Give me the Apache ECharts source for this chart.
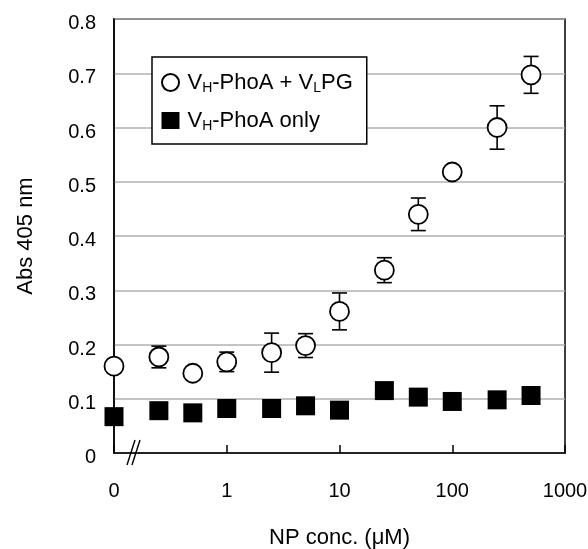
<!DOCTYPE html>
<html><head><meta charset="utf-8">
<script src="https://cdn.jsdelivr.net/npm/echarts@6/dist/echarts.min.js"></script>
<style>html,body{margin:0;padding:0;background:#fff}#c{width:588px;height:549px}</style>
</head><body><div id="c"></div>
<script>
// NP concentration (µM); 0 is drawn at the axis break (0.1 on the log scale)
const concentrations = [0, 0.25, 0.5, 1, 2.5, 5, 10, 25, 50, 100, 250, 500];
const withVLPG = [0.160, 0.177, 0.147, 0.168, 0.185, 0.198, 0.261, 0.337, 0.440, 0.518, 0.600, 0.697];
const withVLPGErr = [0, 0.020, 0, 0.018, 0.036, 0.022, 0.034, 0.023, 0.030, 0, 0.040, 0.034];
const phoAOnly = [0.067, 0.078, 0.074, 0.082, 0.082, 0.087, 0.079, 0.115, 0.103, 0.095, 0.098, 0.106];
const xTickValues = [0.1, 1, 10, 100, 1000];
const xTickLabels = ['0', '1', '10', '100', '1000'];
const seriesNames = ['VH-PhoA + VLPG', 'VH-PhoA only'];

const ZERO_POS = 0.1;
const FONT = '"Liberation Sans", Arial, Helvetica, sans-serif';
const xPos = c => (c === 0 ? ZERO_POS : c);

const chart = echarts.init(document.getElementById('c'), null, {renderer: 'canvas'});

const circleData = concentrations.map((c, i) => [xPos(c), withVLPG[i]]);
const squareData = concentrations.map((c, i) => [xPos(c), phoAOnly[i]]);
const errData = concentrations.map((c, i) => [xPos(c), withVLPG[i], withVLPGErr[i]]);

const GL = 114, GR = 23, GT = 19, GB = 96;

chart.setOption({
  backgroundColor: '#fff',
  animation: false,
  textStyle: {fontFamily: FONT},
  grid: {left: GL, right: GR, top: GT, bottom: GB, containLabel: false, outerBoundsMode: 'none',
         show: true, borderColor: '#000', borderWidth: 1.5, backgroundColor: 'transparent'},
  legend: {
    orient: 'vertical', left: 152, top: 57,
    data: seriesNames,
    backgroundColor: '#fff', borderColor: '#000', borderWidth: 1.5,
    padding: [14, 14, 11, 9], itemGap: 14, itemWidth: 18, itemHeight: 17,
    formatter: name => name === seriesNames[0]
      ? '{n|V}{s|H}{n|-PhoA + V}{s|L}{n|PG}'
      : '{n|V}{s|H}{n|-PhoA only}',
    textStyle: {
      fontFamily: FONT, color: '#000', padding: [0, 0, 0, 3],
      rich: {
        n: {fontSize: 22, fontFamily: FONT, color: '#000', lineHeight: 25},
        s: {fontSize: 14, fontFamily: FONT, color: '#000', lineHeight: 14, verticalAlign: 'bottom', padding: [10, 0, 0, 0]}
      }
    }
  },
  xAxis: {
    type: 'log', logBase: 10, min: 0.1, max: 1000,
    name: 'NP conc. (μM)', nameLocation: 'middle', nameGap: 74,
    nameTextStyle: {fontSize: 22, color: '#000', fontFamily: FONT},
    axisLine: {lineStyle: {color: '#000', width: 1.5}},
    axisTick: {show: true, inside: true, length: 8, lineStyle: {color: '#000', width: 1.5}},
    minorTick: {show: false},
    splitLine: {show: false},
    axisLabel: {
      fontSize: 20, color: '#000', margin: 28, fontFamily: FONT,
      formatter: v => {
        const idx = xTickValues.findIndex(t => Math.abs(Math.log10(t) - Math.log10(v)) < 1e-6);
        return idx >= 0 ? xTickLabels[idx] : '';
      }
    }
  },
  yAxis: {
    type: 'value', min: 0, max: 0.8, interval: 0.1,
    name: 'Abs 405 nm', nameLocation: 'middle', nameGap: 77,
    nameTextStyle: {fontSize: 22, color: '#000', fontFamily: FONT},
    axisLine: {show: true, lineStyle: {color: '#000', width: 1.5}},
    axisTick: {show: false},
    splitLine: {show: true, lineStyle: {color: '#b0b0b0', width: 1.5}},
    axisLabel: {
      fontSize: 20, color: '#000', margin: 18, fontFamily: FONT,
      verticalAlign: 'top', lineHeight: 9,
      formatter: v => (v === 0 ? '0' : v.toFixed(1))
    }
  },
  series: [
    {
      type: 'custom', name: 'err', z: 2, silent: true, clip: false,
      data: errData, encode: {x: 0, y: 1},
      renderItem: (params, api) => {
        const x = api.value(0), y = api.value(1), e = api.value(2);
        if (!e) return null;
        const top = api.coord([x, y + e]);
        const bot = api.coord([x, y - e]);
        const w = 7.5;
        const st = {stroke: '#000', lineWidth: 1.6};
        return {type: 'group', children: [
          {type: 'line', shape: {x1: top[0], y1: top[1], x2: bot[0], y2: bot[1]}, style: st},
          {type: 'line', shape: {x1: top[0] - w, y1: top[1], x2: top[0] + w, y2: top[1]}, style: st},
          {type: 'line', shape: {x1: bot[0] - w, y1: bot[1], x2: bot[0] + w, y2: bot[1]}, style: st}
        ]};
      }
    },
    {
      type: 'scatter', name: seriesNames[0], z: 4, clip: false,
      symbol: 'circle', symbolSize: 19,
      itemStyle: {color: '#fff', borderColor: '#000', borderWidth: 1.8, opacity: 1},
      data: circleData
    },
    {
      type: 'scatter', name: seriesNames[1], z: 4, clip: false,
      symbol: 'rect', symbolSize: 19,
      itemStyle: {color: '#000', opacity: 1},
      data: squareData
    }
  ],
  graphic: [
    {type: 'line', silent: true, z: 10,
     shape: {x1: GL + 13, y1: 549 - GB + 12, x2: GL + 21, y2: 549 - GB - 13},
     style: {stroke: '#000', lineWidth: 1.4}},
    {type: 'line', silent: true, z: 10,
     shape: {x1: GL + 18, y1: 549 - GB + 12, x2: GL + 26, y2: 549 - GB - 13},
     style: {stroke: '#000', lineWidth: 1.4}}
  ]
});
</script>
</body></html>
